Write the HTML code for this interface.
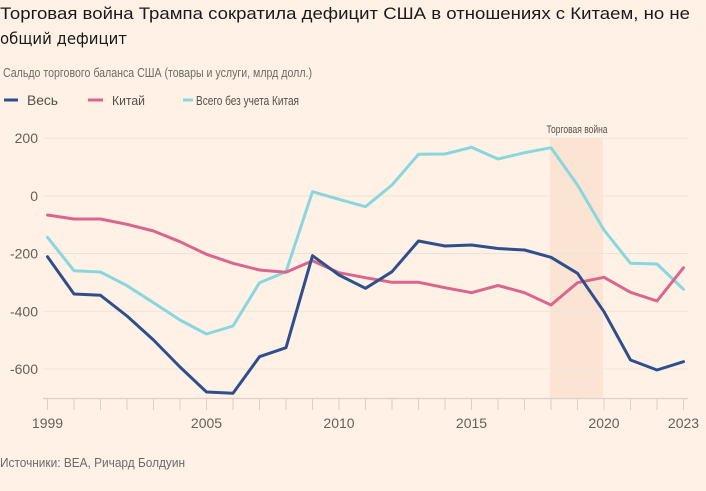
<!DOCTYPE html>
<html><head><meta charset="utf-8"><style>
html,body{margin:0;padding:0;background:#fff1e5;}
svg{display:block;}
text{font-family:"Liberation Sans","DejaVu Sans",sans-serif;}
.n{font-family:"Liberation Sans Narrow","Liberation Sans",sans-serif;}
</style></head><body>
<svg width="706" height="491" viewBox="0 0 706 491" xmlns="http://www.w3.org/2000/svg">
<rect width="706" height="491" fill="#fff1e5"/>
<text x="0" y="19" font-size="16.5" fill="#1a1a1a" textLength="690" lengthAdjust="spacingAndGlyphs">Торговая война Трампа сократила дефицит США в отношениях с Китаем, но не</text>
<text x="0" y="44" font-size="16" fill="#1a1a1a" style="font-family:'DejaVu Sans',sans-serif" textLength="127" lengthAdjust="spacingAndGlyphs">общий дефицит</text>
<text class="n" x="3" y="77" font-size="12.5" fill="#6e6a66" textLength="309" lengthAdjust="spacingAndGlyphs">Сальдо торгового баланса США (товары и услуги, млрд долл.)</text>
<line x1="4" y1="100" x2="18" y2="100" stroke="#2e4f8c" stroke-width="3"/>
<text x="27" y="105" font-size="13.5" fill="#55504c" textLength="31" lengthAdjust="spacingAndGlyphs">Весь</text>
<line x1="88" y1="100" x2="103" y2="100" stroke="#d9668d" stroke-width="3"/>
<text x="112" y="105" font-size="13" fill="#55504c" textLength="33" lengthAdjust="spacingAndGlyphs">Китай</text>
<line x1="183" y1="100" x2="193" y2="100" stroke="#8ad6de" stroke-width="3"/>
<text class="n" x="196" y="105" font-size="12.5" fill="#55504c" textLength="103" lengthAdjust="spacingAndGlyphs">Всего без учета Китая</text>
<!-- band -->
<rect x="550" y="138" width="53" height="260" fill="#fbe2d2" opacity="0.85"/>
<text class="n" x="577" y="133" font-size="11" fill="#55504c" text-anchor="middle" textLength="61" lengthAdjust="spacingAndGlyphs">Торговая война</text>
<!-- grid -->
<g stroke="#efe3d7" stroke-width="1">
<line x1="43" y1="138.3" x2="688" y2="138.3"/>
<line x1="43" y1="196" x2="688" y2="196"/>
<line x1="43" y1="253.5" x2="688" y2="253.5"/>
<line x1="43" y1="311.3" x2="688" y2="311.3"/>
<line x1="43" y1="369" x2="688" y2="369"/>
</g>
<g fill="#66605a" font-size="14" text-anchor="end">
<text x="38" y="143">200</text>
<text x="38" y="201">0</text>
<text x="38" y="258.5">-200</text>
<text x="38" y="316.3">-400</text>
<text x="38" y="374">-600</text>
</g>
<!-- axis -->
<line x1="43" y1="398.5" x2="688" y2="398.5" stroke="#d9d0c7" stroke-width="1.2"/>
<g stroke="#d9d0c7" stroke-width="1">
<line x1="47.5" y1="398" x2="47.5" y2="410"/><line x1="74" y1="398" x2="74" y2="410"/><line x1="100.5" y1="398" x2="100.5" y2="410"/><line x1="127" y1="398" x2="127" y2="410"/><line x1="153.5" y1="398" x2="153.5" y2="410"/><line x1="180" y1="398" x2="180" y2="410"/><line x1="206.5" y1="398" x2="206.5" y2="410"/><line x1="233" y1="398" x2="233" y2="410"/><line x1="259.5" y1="398" x2="259.5" y2="410"/><line x1="286" y1="398" x2="286" y2="410"/><line x1="312.5" y1="398" x2="312.5" y2="410"/><line x1="339" y1="398" x2="339" y2="410"/><line x1="365.5" y1="398" x2="365.5" y2="410"/><line x1="392" y1="398" x2="392" y2="410"/><line x1="418.5" y1="398" x2="418.5" y2="410"/><line x1="445" y1="398" x2="445" y2="410"/><line x1="471.5" y1="398" x2="471.5" y2="410"/><line x1="498" y1="398" x2="498" y2="410"/><line x1="524.5" y1="398" x2="524.5" y2="410"/><line x1="551" y1="398" x2="551" y2="410"/><line x1="577.5" y1="398" x2="577.5" y2="410"/><line x1="604" y1="398" x2="604" y2="410"/><line x1="630.5" y1="398" x2="630.5" y2="410"/><line x1="657" y1="398" x2="657" y2="410"/><line x1="683.5" y1="398" x2="683.5" y2="410"/>
</g>
<g fill="#66605a" font-size="14" text-anchor="middle">
<text x="47.5" y="428">1999</text>
<text x="206.5" y="428">2005</text>
<text x="339" y="428">2010</text>
<text x="471.5" y="428">2015</text>
<text x="604" y="428">2020</text>
<text x="683.5" y="428">2023</text>
</g>
<!-- series -->
<g fill="none" stroke-width="3" stroke-linejoin="round" stroke-linecap="round">
<polyline stroke="#8ad6de" points="47.5,237.3 74,270.7 100.5,272 127,285.7 153.5,302.7 180,320 206.5,334 233,326 259.5,282.7 286,271.7 312.5,191.7 339,199.3 365.5,206.7 392,185 418.5,154.3 445,154 471.5,147.3 498,159 524.5,152.7 551,147.7 577.5,185 604,230 630.5,263.3 657,264 683.5,289.3"/>
<polyline stroke="#d9668d" points="47.5,215 74,219 100.5,219 127,224.3 153.5,231 180,241.7 206.5,254.3 233,263.3 259.5,270 286,272.3 312.5,260.7 339,272.7 365.5,277.7 392,282.3 418.5,282.3 445,287.7 471.5,292.7 498,285.5 524.5,292.7 551,305 577.5,282.7 604,277.3 630.5,292.3 657,301 683.5,267.7"/>
<polyline stroke="#2e4f8c" points="47.5,256.7 74,294 100.5,295.3 127,316 153.5,340 180,367 206.5,392 233,393.3 259.5,356.7 286,347.7 312.5,255.7 339,275 365.5,288.3 392,271.7 418.5,241 445,246 471.5,245 498,248.5 524.5,250 551,257.3 577.5,273.3 604,311.7 630.5,360 657,370 683.5,361.7"/>
</g>
<text class="n" x="0" y="467" font-size="13" fill="#6e6a66" textLength="185" lengthAdjust="spacingAndGlyphs">Источники: BEA, Ричард Болдуин</text>
</svg>
</body></html>
